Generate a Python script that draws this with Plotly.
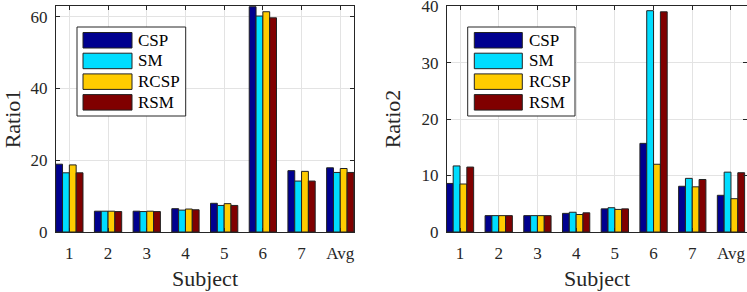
import plotly.graph_objects as go

subjects = ["1", "2", "3", "4", "5", "6", "7", "Avg"]
methods = ["CSP", "SM", "RCSP", "RSM"]
colors = ["#00008F", "#00DDFF", "#FFCC00", "#800000"]

ratio1_csp = [18.9, 5.8, 5.8, 6.5, 8.0, 62.8, 17.1, 17.9]
ratio1_sm = [16.5, 5.8, 5.7, 6.1, 7.4, 60.2, 14.2, 16.6]
ratio1_rcsp = [18.7, 5.8, 5.8, 6.4, 7.9, 61.4, 16.9, 17.7]
ratio1_rsm = [16.5, 5.7, 5.7, 6.2, 7.4, 59.7, 14.2, 16.6]

ratio2_csp = [8.6, 2.9, 2.9, 3.3, 4.1, 15.7, 8.1, 6.5]
ratio2_sm = [11.7, 2.9, 2.9, 3.5, 4.3, 39.2, 9.5, 10.6]
ratio2_rcsp = [8.5, 2.9, 2.9, 3.1, 4.0, 12.0, 8.0, 5.9]
ratio2_rsm = [11.5, 2.9, 2.9, 3.4, 4.1, 39.0, 9.3, 10.5]

ratio1 = [ratio1_csp, ratio1_sm, ratio1_rcsp, ratio1_rsm]
ratio2 = [ratio2_csp, ratio2_sm, ratio2_rcsp, ratio2_rsm]

W, H = 747, 292
FONT = "Liberation Serif"
AX = "#262626"

def px(x):
    return x / W

def py(y):
    return 1 - y / H

fig = go.Figure()
for i, m in enumerate(methods):
    fig.add_trace(go.Bar(x=subjects, y=ratio1[i], name=m, marker_color=colors[i],
                         marker_line=dict(color="#222222", width=1),
                         xaxis="x", yaxis="y", showlegend=False))
for i, m in enumerate(methods):
    fig.add_trace(go.Bar(x=subjects, y=ratio2[i], name=m, marker_color=colors[i],
                         marker_line=dict(color="#222222", width=1),
                         xaxis="x2", yaxis="y2", showlegend=False))

axis_common = dict(showline=True, linecolor=AX, linewidth=1, mirror="ticks",
                   ticks="inside", ticklen=4, tickcolor=AX,
                   showgrid=True, gridcolor="#E3E3E3", gridwidth=1,
                   zeroline=False, automargin=False, ticklabeloverflow="allow",
                   tickfont=dict(family=FONT, size=17, color=AX))

xt = dict(font=dict(family=FONT, size=22, color=AX), standoff=8)
yt = dict(font=dict(family=FONT, size=22, color=AX), standoff=14)

fig.update_layout(
    width=W, height=H,
    margin=dict(l=0, r=0, t=0, b=0, autoexpand=False),
    paper_bgcolor="white", plot_bgcolor="white",
    barmode="group", bargap=0.295, bargroupgap=0,
    showlegend=False,
    xaxis=dict(domain=[px(56), px(354)], range=[-0.345, 7.355], anchor="y",
               title=dict(text="Subject", **xt), ticklabelstandoff=6,
               **axis_common),
    yaxis=dict(domain=[py(232), py(6)], range=[0, 63], anchor="x",
               tickvals=[0, 20, 40, 60], ticklabelstandoff=4,
               title=dict(text="Ratio1", **yt),
               **axis_common),
    xaxis2=dict(domain=[px(447), 1.0], range=[-0.336, 7.414], anchor="y2",
                title=dict(text="Subject", **xt), ticklabelstandoff=6,
                **axis_common),
    yaxis2=dict(domain=[py(232), py(6)], range=[0, 40.03], anchor="x2",
                tickvals=[0, 10, 20, 30, 40], ticklabelstandoff=4,
                title=dict(text="Ratio2", **yt),
                **axis_common),
)

# manual legends (large MATLAB-style swatches)
shapes = []
annotations = []
for (bx0, bx1, sx0, sx1, tx) in [(77, 185.7, 83, 132, 136), (467.7, 575, 474.3, 522.3, 526.7)]:
    shapes.append(dict(type="rect", xref="paper", yref="paper",
                       x0=px(bx0), x1=px(bx1), y0=py(116), y1=py(27),
                       fillcolor="white", line=dict(color=AX, width=1), layer="above"))
    for i, m in enumerate(methods):
        top = 32.5 + i * 20.7
        shapes.append(dict(type="rect", xref="paper", yref="paper",
                           x0=px(sx0), x1=px(sx1), y0=py(top + 15.5), y1=py(top),
                           fillcolor=colors[i], line=dict(color="#222222", width=1), layer="above"))
        annotations.append(dict(xref="paper", yref="paper", x=px(tx), y=py(top + 7.75),
                                text=m, showarrow=False, xanchor="left", yanchor="middle",
                                font=dict(family=FONT, size=17, color="black")))
fig.update_layout(shapes=shapes, annotations=annotations)

fig.write_html("out.html", config={"displayModeBar": False, "staticPlot": True},
               post_script="document.body.style.margin='0px';document.body.style.overflow='hidden';")
